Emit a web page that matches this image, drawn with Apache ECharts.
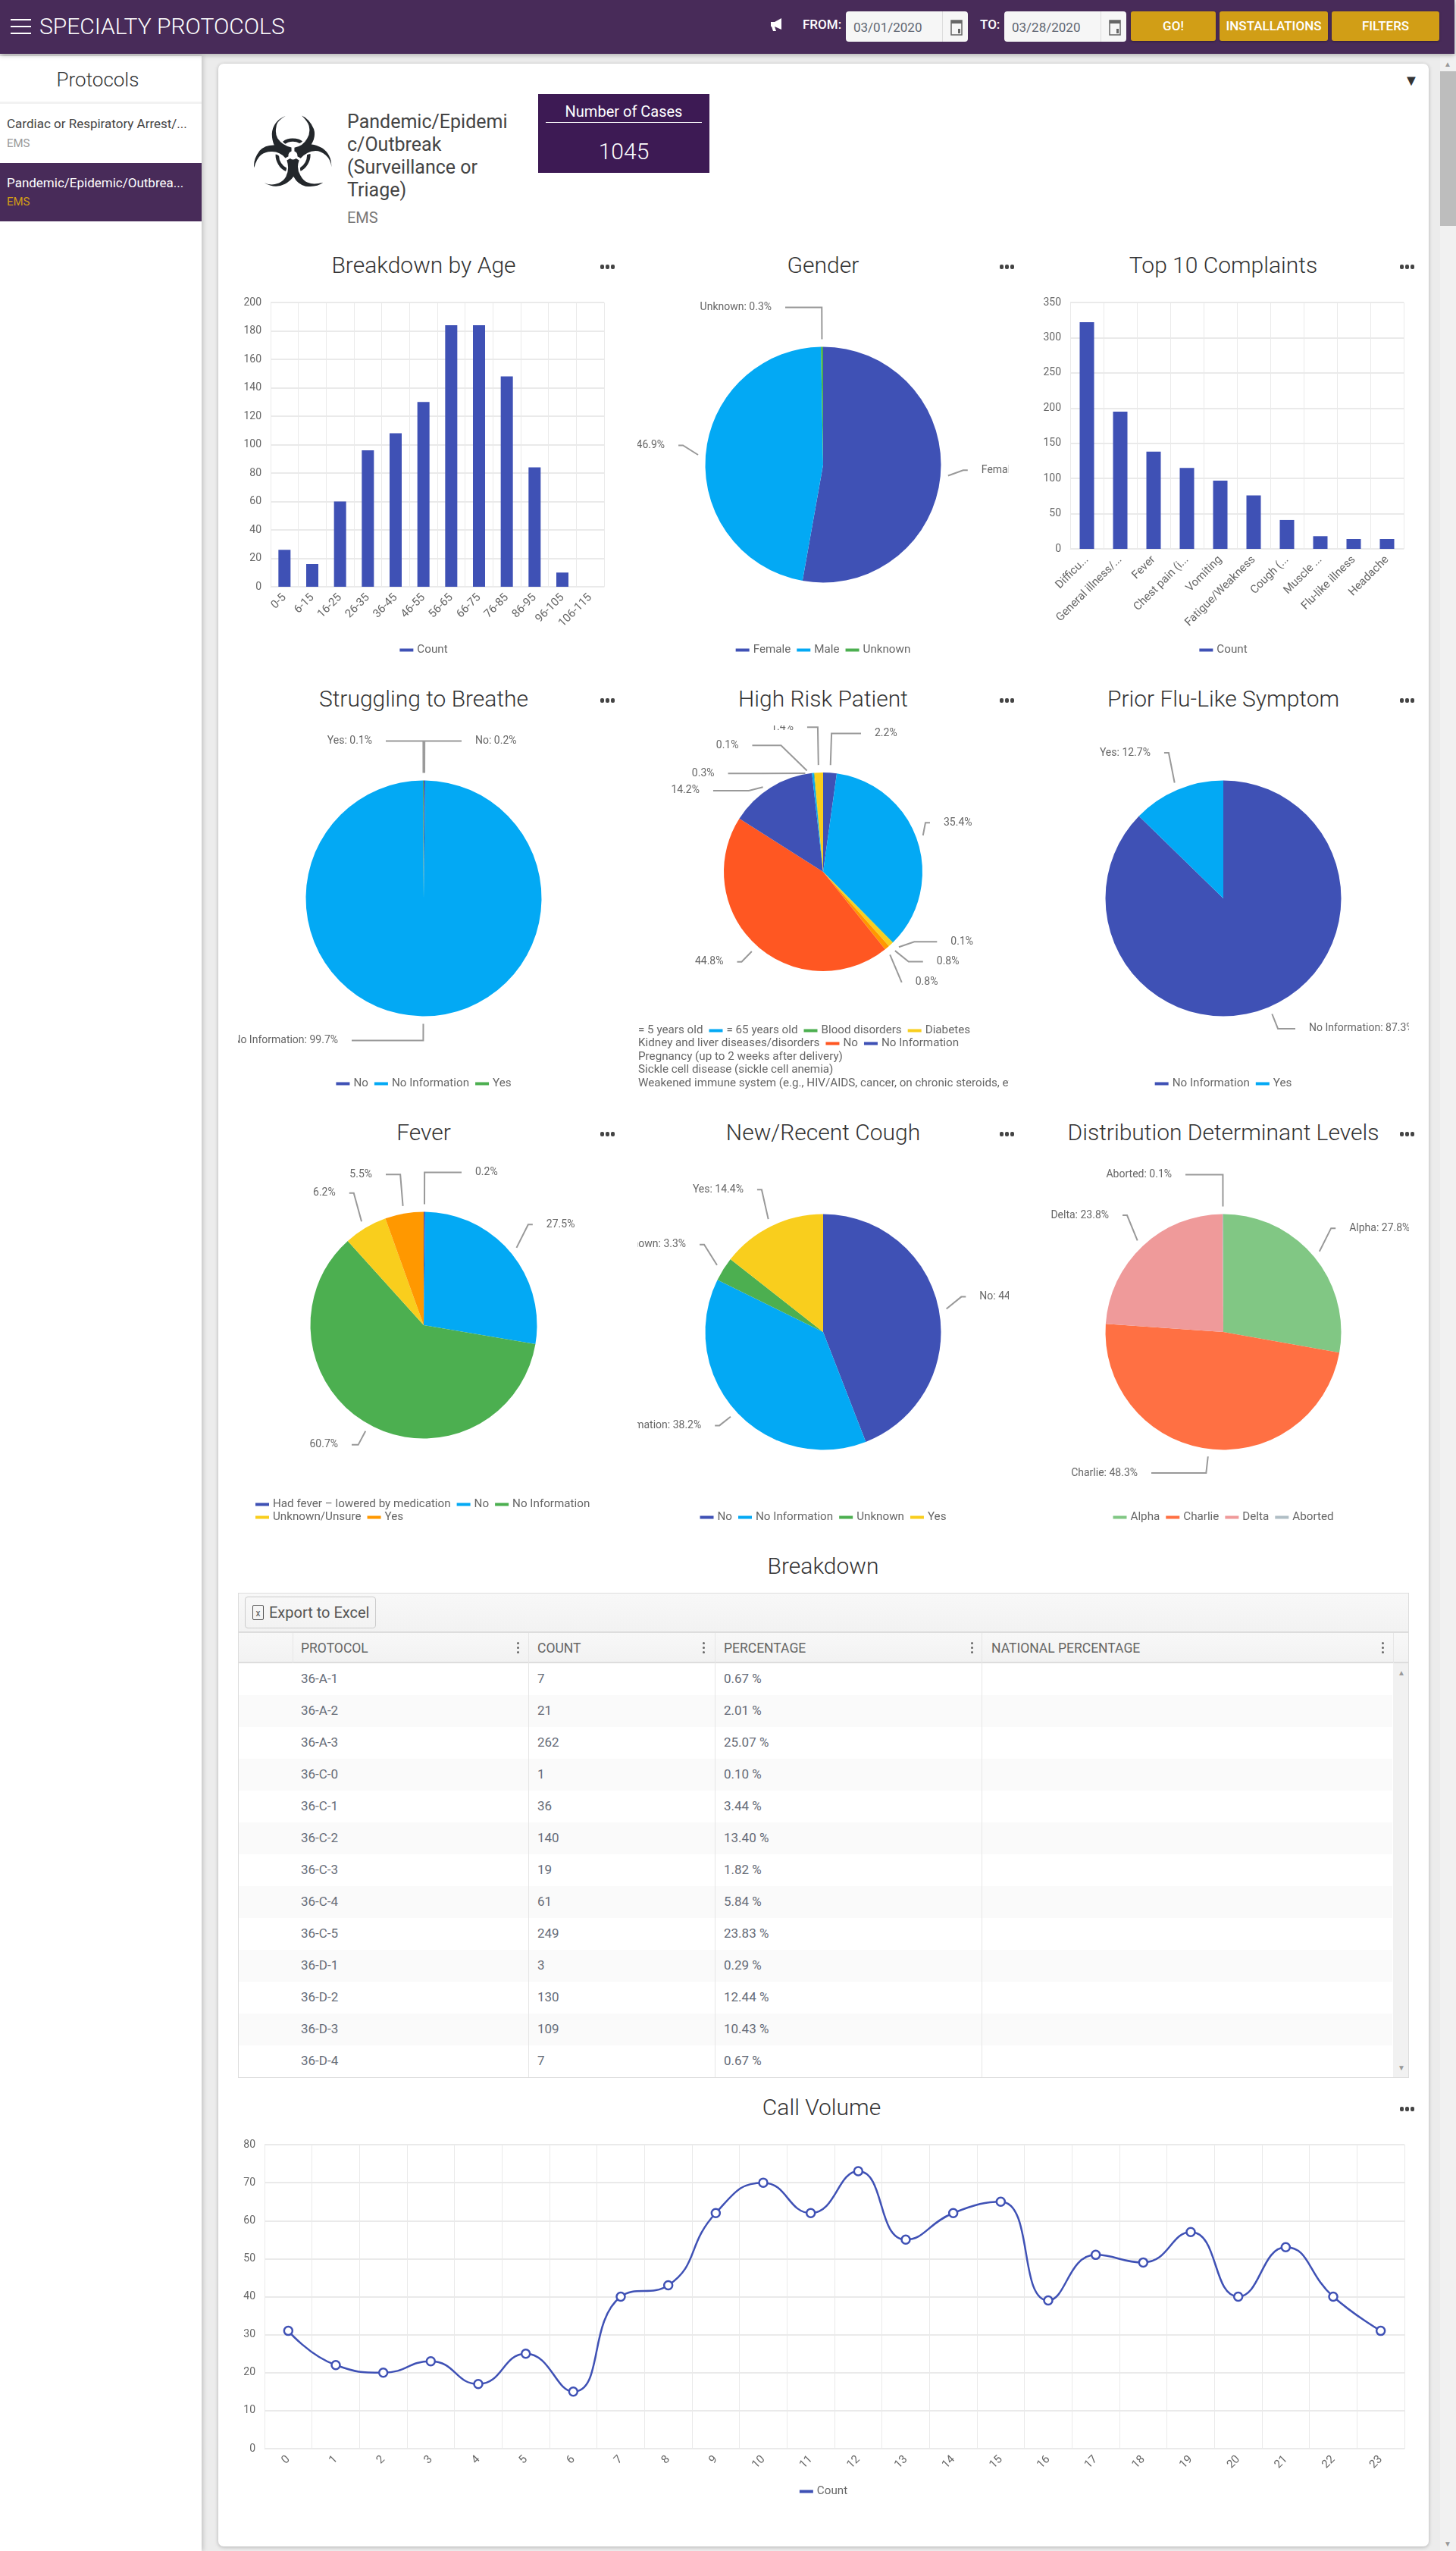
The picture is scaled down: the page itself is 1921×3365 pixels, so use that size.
<!DOCTYPE html>
<html>
<head>
<meta charset="utf-8">
<title>Specialty Protocols</title>
<script src="https://cdn.jsdelivr.net/npm/echarts@6/dist/echarts.min.js"></script>
<style>
html,body{margin:0;padding:0;width:1921px;height:3365px;overflow:hidden;background:#ececec;font-family:Roboto,sans-serif;color:#333}
.abs,.abs *{box-sizing:border-box}
.abs{position:absolute}
#topbar{left:0;top:0;width:1919px;height:71px;background:#482b59;box-shadow:0 2px 6px rgba(0,0,0,.25);z-index:5}
#sidebar{left:0;top:74px;width:266px;height:3291px;background:#fff;box-shadow:2px 0 6px rgba(0,0,0,.18)}
#card{left:288px;top:84px;width:1597px;height:3275px;background:#fff;border-radius:7px;box-shadow:0 1px 5px rgba(0,0,0,.25)}
.burger{left:14px;width:27px;height:2px;background:#fff}
.bar-label{color:#fff;font-size:17px;font-weight:500;top:22px}
.date{top:15px;width:161px;height:40px;background:#f6f6f6;border-radius:4px;color:#5f6672;font-size:17px;line-height:42px;padding-left:10px}
.date i{position:absolute;left:127px;top:0;width:1px;height:40px;background:#ddd}
.date svg{position:absolute;left:136px;top:7px}
.btn{top:15px;height:39px;background:#d19e16;border-radius:3px;color:#fff;font-size:17px;font-weight:500;line-height:39px;text-align:center;box-shadow:0 1px 3px rgba(0,0,0,.3)}
.ctitle{height:44px;line-height:44px;font-size:30px;font-weight:300;color:#333;text-align:center;white-space:nowrap}
.dots{width:24px;height:6px}
.dots b{display:block;float:left;width:5px;height:6px;margin-right:2px;border-radius:2px;background:#444}
.clip{overflow:hidden}
#grid{left:314px;top:2101px;width:1545px;height:640px;border:1px solid #ddd;background:#fff;font-size:17px;color:#666c78}
.hcell{top:53px;height:40px;line-height:38px;font-size:17.5px;color:#666}
.kebab{width:3px;top:64px}
.kebab b{display:block;width:3px;height:3px;margin-bottom:3px;border-radius:2px;background:#666}
.row{left:0;width:1522px;height:42px;line-height:41px}
.vline{width:1px;background:#e6e6e6}
</style>
</head>
<body>
<div id="topbar" class="abs">
  <div class="abs burger" style="top:25px"></div>
  <div class="abs burger" style="top:34px"></div>
  <div class="abs burger" style="top:43px"></div>
  <div class="abs" style="left:52px;top:16px;font-size:30px;font-weight:300;color:#fff;line-height:38px;white-space:nowrap">SPECIALTY PROTOCOLS</div>
  <svg class="abs" style="left:1016px;top:23px" width="20" height="18" viewBox="0 0 20 18"><path d="M1 6h5l9-5v15l-9-4H6l2 6H4L2 12H1z" fill="#fff"/></svg>
  <div class="abs bar-label" style="left:1059px">FROM:</div>
  <div class="abs date" style="left:1116px">03/01/2020<i></i><svg width="20" height="26" viewBox="0 0 20 26"><path d="M3 5h14v19H3z" fill="none" stroke="#666" stroke-width="1.5"/><path d="M3 5h14v4H3zM12 16h3v6h-3z" fill="#666"/></svg></div>
  <div class="abs bar-label" style="left:1293px">TO:</div>
  <div class="abs date" style="left:1325px">03/28/2020<i></i><svg width="20" height="26" viewBox="0 0 20 26"><path d="M3 5h14v19H3z" fill="none" stroke="#666" stroke-width="1.5"/><path d="M3 5h14v4H3zM12 16h3v6h-3z" fill="#666"/></svg></div>
  <div class="abs btn" style="left:1492px;width:112px">GO!</div>
  <div class="abs btn" style="left:1609px;width:143px">INSTALLATIONS</div>
  <div class="abs btn" style="left:1757px;width:142px">FILTERS</div>
</div>

<div id="sidebar" class="abs">
  <div class="abs" style="left:0;top:16px;width:258px;text-align:center;font-size:26px;font-weight:300">Protocols</div>
  <div class="abs" style="left:0;top:60px;width:266px;height:3px;background:#f2f2f2"></div>
  <div class="abs" style="left:9px;top:79px;font-size:17px;color:#444;white-space:nowrap">Cardiac or Respiratory Arrest/...</div>
  <div class="abs" style="left:9px;top:106px;font-size:15px;color:#999">EMS</div>
  <div class="abs" style="left:0;top:141px;width:266px;height:77px;background:#482b59"></div>
  <div class="abs" style="left:9px;top:157px;font-size:17px;color:#fff;white-space:nowrap">Pandemic/Epidemic/Outbrea...</div>
  <div class="abs" style="left:9px;top:183px;font-size:15px;color:#d19e16">EMS</div>
</div>

<div id="card" class="abs"></div>
<div class="abs" style="left:1900px;top:74px;width:21px;height:3291px;background:#f1f1f1"></div>
<div class="abs" style="left:1900px;top:94px;width:21px;height:204px;background:#bdbdbd"></div>
<div class="abs" style="left:1905px;top:79px;font-size:10px;color:#999">▲</div>
<div class="abs" style="left:1905px;top:3350px;font-size:10px;color:#999">▼</div>

<div class="abs" style="left:1852px;top:94px;font-size:20px;color:#333">▼</div>
<div class="abs" style="left:326px;top:132px;width:120px;height:140px;line-height:140px;text-align:center;font-family:'DejaVu Sans';font-size:128px;color:#23272b">☣</div>
<div class="abs" style="left:458px;top:146px;width:225px;font-size:25px;line-height:30px;color:#444;word-break:break-all">Pandemic/Epidemi<br>c/Outbreak<br>(Surveillance or<br>Triage)</div>
<div class="abs" style="left:458px;top:275px;font-size:20px;color:#777">EMS</div>
<div class="abs" style="left:710px;top:124px;width:226px;height:104px;background:#3d1a54;color:#fff;text-align:center">
  <div style="margin-top:11px;font-size:20px;line-height:24px">Number of Cases</div>
  <div style="margin:2px 10px 0;height:1px;background:#fff"></div>
  <div style="margin-top:20px;font-size:30px;line-height:36px;font-weight:300">1045</div>
</div>

<div id="overlay"></div>

<script>
// chart values
const ageLabels = ['0-5','6-15','16-25','26-35','36-45','46-55','56-65','66-75','76-85','86-95','96-105','106-115'];
const ageCounts = [26,16,60,96,108,130,184,184,148,84,10,0];

const complaintLabels = ['Difficu...','General illness/...','Fever','Chest pain (i...','Vomiting','Fatigue/Weakness','Cough (...','Muscle ...','Flu-like illness','Headache'];
const complaintCounts = [322,195,138,115,97,76,41,18,14,14];

const genderNames = ['Female','Male','Unknown'];
const genderValues = [52.8,46.9,0.3];

const breatheNames = ['No','No Information','Yes'];
const breatheValues = [0.2,99.7,0.1];

const riskNames = ['= 5 years old','= 65 years old','Blood disorders','Diabetes','Kidney and liver diseases/disorders','No','No Information','Pregnancy (up to 2 weeks after delivery)','Sickle cell disease (sickle cell anemia)','Weakened immune system (e.g., HIV/AIDS, cancer, on chronic steroids, etc.)'];
const riskValues = [2.2,35.4,0.1,0.8,0.8,44.8,14.2,0.3,0.1,1.4];

const fluNames = ['No Information','Yes'];
const fluValues = [87.3,12.7];

const feverNames = ['Had fever – lowered by medication','No','No Information','Unknown/Unsure','Yes'];
const feverValues = [0.2,27.5,60.7,6.2,5.5];

const coughNames = ['No','No Information','Unknown','Yes'];
const coughValues = [44.1,38.2,3.3,14.4];

const levelNames = ['Alpha','Charlie','Delta','Aborted'];
const levelValues = [27.8,48.3,23.8,0.1];

const hourLabels = ['0','1','2','3','4','5','6','7','8','9','10','11','12','13','14','15','16','17','18','19','20','21','22','23'];
const hourCounts = [31,22,20,23,17,25,15,40,43,62,70,62,73,55,62,65,39,51,49,57,40,53,40,31];

const tableProtocols = ['36-A-1','36-A-2','36-A-3','36-C-0','36-C-1','36-C-2','36-C-3','36-C-4','36-C-5','36-D-1','36-D-2','36-D-3','36-D-4'];
const tableCounts = [7,21,262,1,36,140,19,61,249,3,130,109,7];
const tablePercents = ['0.67 %','2.01 %','25.07 %','0.10 %','3.44 %','13.40 %','1.82 %','5.84 %','23.83 %','0.29 %','12.44 %','10.43 %','0.67 %'];

const palette = ['#3f51b5','#03a9f4','#4caf50','#f9ce1d','#ff9800','#ff5722'];
const levelPalette = ['#81c784','#ff7043','#ef9a9a','#b0bec5'];

const fontFamily = 'Roboto, sans-serif';
const textColor = '#666';
const gridColor = '#eaeaea';
const PADX = 150, PADY = 100, CELL = 490;
const colX = [314,841,1369], rowY = [385,957,1529];

const overlay = document.getElementById('overlay');

function addBox(className, css, html) {
    const el = document.createElement('div');
    el.className = 'abs ' + className;
    el.style.cssText = css;
    if (html !== undefined) el.innerHTML = html;
    overlay.appendChild(el);
    return el;
}

function addHead(title, cx, cy, dotsX) {
    const el = addBox('ctitle', `left:${cx - 300}px;top:${cy - 22}px;width:600px`);
    el.textContent = title;
    addBox('dots', `left:${dotsX - 10}px;top:${cy - 1}px`, '<b></b><b></b><b></b>');
}

// labels and legends run past the cell and get cut, so the canvas is bigger than the clip box
function addCell(col, row) {
    const clip = addBox('clip', `left:${colX[col]}px;top:${rowY[row]}px;width:${CELL}px;height:${CELL}px`);
    const inner = document.createElement('div');
    inner.style.cssText = `position:absolute;left:${-PADX}px;top:${-PADY}px;width:${CELL + PADX * 2}px;height:${CELL + PADY}px`;
    clip.appendChild(inner);
    return echarts.init(inner);
}

function legendText() {
    return {color: textColor, fontSize: 15.2, fontFamily};
}

function oneLegend(names, top, left) {
    return {
        data: names, top: PADY + top, left: left === undefined ? 'center' : PADX + left,
        icon: 'rect', itemWidth: 18, itemHeight: 4, itemGap: 8, padding: 0,
        textStyle: legendText()
    };
}

function barOption(labels, values, barWidth, bottom, max, interval) {
    return {
        animation: false,
        color: palette,
        legend: oneLegend(['Count'], 465),
        grid: {left: PADX + 43, right: PADX + 7, top: PADY + 14, bottom: bottom},
        xAxis: {
            type: 'category', data: labels,
            axisTick: {show: false},
            axisLine: {lineStyle: {color: gridColor}},
            splitLine: {show: true, lineStyle: {color: gridColor}},
            axisLabel: {rotate: 45, interval: 0, color: textColor, fontSize: 15, fontFamily, margin: 12}
        },
        yAxis: {
            type: 'value', min: 0, max: max, interval: interval,
            axisLabel: {color: textColor, fontSize: 14, fontFamily, margin: 12},
            axisLine: {show: true, lineStyle: {color: gridColor}},
            splitLine: {lineStyle: {color: gridColor, width: 2}}
        },
        series: [{name: 'Count', type: 'bar', data: values, barWidth: barWidth}]
    };
}

// the source leaves a gap at the slice, lifts labels and keeps a minimum reach from the centre
function labelShift(cx, cy, floors, nudges) {
    return p => {
        const pts = p.labelLinePoints;
        if (!pts || pts.length < 3) return {};
        const a = pts[0], b = pts[1], c = pts[2];
        const run = Math.hypot(b[0] - a[0], b[1] - a[1]) || 1;
        const start = [a[0] + (b[0] - a[0]) * 10 / run, a[1] + (b[1] - a[1]) * 10 / run];
        const cosA = (cy - a[1]) / (Math.hypot(a[0] - cx, a[1] - cy) || 1);
        const side = c[0] >= b[0] ? 1 : -1;
        const floor = cosA > 0 ? (side > 0 ? floors.topRight : floors.topLeft) : floors.bottom;
        const nudge = (nudges && nudges[p.dataIndex]) || [0, 0];
        const dy = -10 - 12 * cosA + nudge[1];
        const dx = side * Math.max(0, floor - Math.abs(c[0] - cx)) + nudge[0];
        return {dx: dx, dy: dy, labelLinePoints: [start, [b[0], b[1] + dy], [c[0] + dx, c[1] + dy]]};
    };
}

const reachFloors = {topRight: 50, topLeft: 50, bottom: 95};
const riskFloors = {topRight: 50, topLeft: 0, bottom: 0};
// the crowded small slices of the risk pie sit further out in the source
const riskNudges = {2: [24, -21], 3: [13, -11], 4: [-6, 0], 6: [-41, 26], 7: [-39, 21], 8: [-32, 0], 9: [-8, -8]};

function pieOption(names, values, cy, radius, fmt, colors, legends, floors, nudges) {
    return {
        animation: false,
        color: colors,
        legend: legends,
        series: [{
            type: 'pie', clockwise: true, startAngle: 90,
            center: [PADX + CELL / 2, PADY + cy], radius: radius,
            data: names.map((name, i) => ({name: name, value: values[i]})),
            label: {formatter: fmt, color: textColor, fontSize: 14, fontFamily, distanceToLabelLine: 18},
            labelLine: {length: 30, length2: 6, lineStyle: {color: '#999', width: 2}},
            labelLayout: labelShift(PADX + CELL / 2, PADY + cy, floors || reachFloors, nudges)
        }]
    };
}

addHead('Breakdown by Age', 559, 350, 802);
addHead('Gender', 1086, 350, 1329);
addHead('Top 10 Complaints', 1614, 350, 1857);
addHead('Struggling to Breathe', 559, 922, 802);
addHead('High Risk Patient', 1086, 922, 1329);
addHead('Prior Flu-Like Symptom', 1614, 922, 1857);
addHead('Fever', 559, 1494, 802);
addHead('New/Recent Cough', 1086, 1494, 1329);
addHead('Distribution Determinant Levels', 1614, 1494, 1857);
addHead('Call Volume', 1084, 2780, 1857);

addCell(0, 0).setOption(barOption(ageLabels, ageCounts, 16, 101, 200, 20));
addCell(2, 0).setOption(barOption(complaintLabels, complaintCounts, 19, 151, 350, 50));

const nameFmt = p => p.name + ': ' + p.value + '%';
const pctFmt = p => p.value + '%';
addCell(1, 0).setOption(pieOption(genderNames, genderValues, 228, 155.5, nameFmt, palette, oneLegend(genderNames, 465)));
addCell(0, 1).setOption(pieOption(breatheNames, breatheValues, 228, 155.5, nameFmt, palette, oneLegend(breatheNames, 465)));
addCell(1, 1).setOption(pieOption(riskNames, riskValues, 193, 131, pctFmt, palette, [
    oneLegend(riskNames.slice(0, 4), 395, -22),
    oneLegend(riskNames.slice(4, 7), 412, -22),
    oneLegend(riskNames.slice(7, 8), 430, -22),
    oneLegend(riskNames.slice(8, 9), 447, -22),
    oneLegend(riskNames.slice(9, 10), 465, -22)
], riskFloors, riskNudges));
addCell(2, 1).setOption(pieOption(fluNames, fluValues, 228, 155.5, nameFmt, palette, oneLegend(fluNames, 465)));
addCell(0, 2).setOption(pieOption(feverNames, feverValues, 219, 149.5, pctFmt, palette, [
    oneLegend(feverNames.slice(0, 3), 448, 23),
    oneLegend(feverNames.slice(3), 465, 23)
]));
addCell(1, 2).setOption(pieOption(coughNames, coughValues, 228, 155.5, nameFmt, palette, oneLegend(coughNames, 465)));
addCell(2, 2).setOption(pieOption(levelNames, levelValues, 228, 155.5, nameFmt, levelPalette, oneLegend(levelNames, 465)));

const callBox = addBox('', 'left:314px;top:2800px;width:1545px;height:520px');
echarts.init(callBox).setOption({
    animation: false,
    color: palette,
    legend: {
        data: ['Count'], top: 479, left: 'center', icon: 'rect', itemWidth: 18, itemHeight: 4, padding: 0,
        itemStyle: {color: '#3f51b5', borderWidth: 0},
        textStyle: legendText()
    },
    grid: {left: 35, right: 6, top: 29, bottom: 90},
    xAxis: {
        type: 'category', data: hourLabels,
        axisTick: {show: false},
        axisLine: {lineStyle: {color: gridColor}},
        splitLine: {show: true, lineStyle: {color: gridColor}},
        axisLabel: {rotate: 45, interval: 0, color: textColor, fontSize: 15, fontFamily, margin: 12}
    },
    yAxis: {
        type: 'value', min: 0, max: 80, interval: 10,
        axisLabel: {color: textColor, fontSize: 14, fontFamily, margin: 12},
        axisLine: {show: true, lineStyle: {color: gridColor}},
        splitLine: {lineStyle: {color: gridColor, width: 2}}
    },
    series: [{
        name: 'Count', type: 'line', data: hourCounts, smooth: true,
        symbol: 'circle', symbolSize: 11,
        lineStyle: {color: '#3f51b5', width: 2.5},
        itemStyle: {color: '#fff', borderColor: '#3f51b5', borderWidth: 2.5}
    }]
});

// breakdown table
addBox('ctitle', 'left:786px;top:2044px;width:600px').textContent = 'Breakdown';
const grid = addBox('', 'left:314px;top:2101px;width:1545px;height:640px;border:1px solid #ddd;background:#fff;font-size:17px;color:#666c78;overflow:hidden');
grid.id = 'grid';
const columnX = [71,382,628,980,1523];
const headers = [['PROTOCOL',82,368],['COUNT',394,613],['PERCENTAGE',640,967],['NATIONAL PERCENTAGE',993,1509]];
let html = '<div class="abs" style="left:0;top:0;width:1545px;height:52px;background:linear-gradient(#f8f8f8,#f2f2f2);border-bottom:2px solid #ddd"></div>'
    + '<div class="abs" style="left:8px;top:4px;width:173px;height:42px;border:1px solid #ccc;border-radius:4px;line-height:40px;font-size:20px;color:#555;padding-left:31px;white-space:nowrap">Export to Excel'
    + '<span class="abs" style="left:9px;top:10px;width:15px;height:20px;border:1.5px solid #555;border-radius:2px;font-size:12px;line-height:20px;text-align:center">x</span></div>'
    + '<div class="abs" style="left:0;top:52px;width:1545px;height:40px;background:linear-gradient(#f8f8f8,#f2f2f2);border-bottom:2px solid #ddd"></div>';
headers.forEach(h => {
    html += `<div class="abs hcell" style="left:${h[1]}px">${h[0]}</div>`;
    html += `<div class="abs kebab" style="left:${h[2]-1}px"><b></b><b></b><b></b></div>`;
});
tableProtocols.forEach((p, i) => {
    const top = 92 + i * 42;
    html += `<div class="abs row" style="top:${top}px;background:${i % 2 ? '#fafafa' : '#fff'}">`
        + `<span class="abs" style="left:82px">${p}</span>`
        + `<span class="abs" style="left:394px">${tableCounts[i]}</span>`
        + `<span class="abs" style="left:640px">${tablePercents[i]}</span></div>`;
});
columnX.forEach((x, i) => {
    const h = i === 0 ? 40 : 588;
    html += `<div class="abs vline" style="left:${x}px;top:52px;height:${h}px"></div>`;
});
html += '<div class="abs" style="left:1523px;top:92px;width:21px;height:548px;background:#f1f1f1"></div>'
    + '<div class="abs" style="left:1529px;top:99px;font-size:10px;color:#999">▲</div>'
    + '<div class="abs" style="left:1529px;top:620px;font-size:10px;color:#999">▼</div>';
grid.innerHTML = html;
</script>
</body>
</html>
